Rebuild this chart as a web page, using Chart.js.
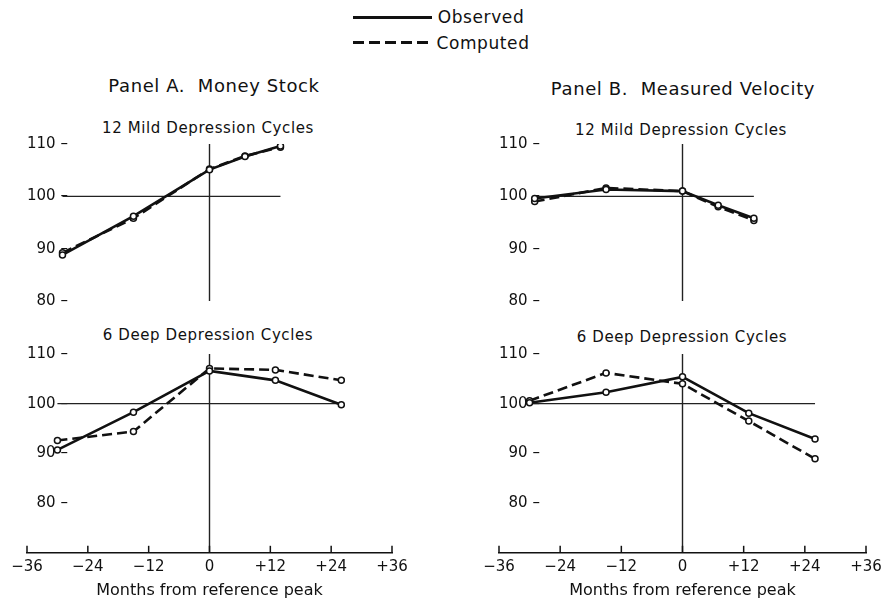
<!DOCTYPE html>
<html lang="en">
<head>
<meta charset="UTF-8">
<title>Money Stock and Measured Velocity</title>
<script src="https://cdn.jsdelivr.net/npm/chart.js"></script>
<style>
  body { margin: 0; background: #fff; font-family: "DejaVu Sans", sans-serif; color: #111; }
  #page { position: relative; width: 888px; height: 600px; overflow: hidden; }
  .box { position: absolute; }
  .txt { position: absolute; white-space: nowrap; transform: translate(-50%, -50%); letter-spacing: 0.6px; }
  .legline { position: absolute; width: 79px; height: 3px; }
  .solid { background: #111; }
  .dashed { background: repeating-linear-gradient(to right, #111 0 11px, transparent 11px 16px); }
</style>
</head>
<body>
<div id="page">
  <div class="legline solid" style="left:353px; top:16px;"></div>
  <div class="legline dashed" style="left:353px; top:41px;"></div>
  <div class="txt" style="left:481px; top:17px; font-size:17px;">Observed</div>
  <div class="txt" style="left:483px; top:43px; font-size:17px;">Computed</div>

  <div class="txt" style="left:214px; top:85px; font-size:18px;">Panel A.&nbsp; Money Stock</div>
  <div class="txt" style="left:683px; top:88px; font-size:18px;">Panel B.&nbsp; Measured Velocity</div>

  <div class="txt" style="left:208px; top:128px; font-size:15px;">12 Mild Depression Cycles</div>
  <div class="txt" style="left:681px; top:130px; font-size:15px;">12 Mild Depression Cycles</div>
  <div class="txt" style="left:208px; top:335px; font-size:15px;">6 Deep Depression Cycles</div>
  <div class="txt" style="left:682px; top:337px; font-size:15px;">6 Deep Depression Cycles</div>

  <div class="box" style="left:0px; top:135px;"><canvas id="moneyMild" width="440" height="175"></canvas></div>
  <div class="box" style="left:440px; top:135px;"><canvas id="velMild" width="448" height="175"></canvas></div>
  <div class="box" style="left:0px; top:345px;"><canvas id="moneyDeep" width="440" height="255"></canvas></div>
  <div class="box" style="left:440px; top:345px;"><canvas id="velDeep" width="448" height="255"></canvas></div>
</div>

<script>
// months from reference peak
const xTicks = [-36, -24, -12, 0, 12, 24, 36];
const mildMonths = [-29, -15, 0, 7, 14];
const deepMonths = [-30, -15, 0, 13, 26];

// Panel A, money stock
const moneyMildObserved = [88.8, 96.2, 105.1, 107.6, 109.6];
const moneyMildComputed = [89.2, 95.8, 105.2, 107.7, 109.4];
const moneyDeepObserved = [90.7, 98.3, 106.6, 104.7, 99.8];
const moneyDeepComputed = [92.6, 94.4, 107.1, 106.8, 104.7];

// Panel B, measured velocity
const velMildObserved = [99.6, 101.3, 101.0, 98.3, 95.8];
const velMildComputed = [99.0, 101.6, 101.0, 98.0, 95.4];
const velDeepObserved = [100.2, 102.3, 105.4, 98.1, 92.9];
const velDeepComputed = [100.6, 106.2, 104.0, 96.5, 88.9];

Chart.defaults.font.family = '"DejaVu Sans", sans-serif';
Chart.defaults.color = '#111';

// short tick marks pointing up from the month axis
const upTicks = {
  id: 'upTicks',
  afterDraw(chart) {
    const xs = chart.scales.x;
    if (!xs.options.display) return;
    const ctx = chart.ctx;
    const y = chart.chartArea.bottom;
    ctx.save();
    ctx.strokeStyle = '#111';
    ctx.lineWidth = 1.5;
    xTicks.forEach(v => {
      const px = xs.getPixelForValue(v);
      ctx.beginPath();
      ctx.moveTo(px, y);
      ctx.lineTo(px, y - 7);
      ctx.stroke();
    });
    ctx.restore();
  }
};

function pairs(months, vals) {
  return months.map((m, i) => ({ x: m, y: vals[i] }));
}

function makePanel(id, months, observed, computed, yMin, showX, pad) {
  const first = months[0], last = months[months.length - 1];
  new Chart(document.getElementById(id), {
    type: 'line',
    data: {
      datasets: [
        {
          label: 'Observed',
          data: pairs(months, observed),
          borderColor: '#111', borderWidth: 2.6,
          pointRadius: 3, pointBackgroundColor: '#fff',
          pointBorderColor: '#111', pointBorderWidth: 1.5
        },
        {
          label: 'Computed',
          data: pairs(months, computed),
          borderColor: '#111', borderWidth: 2.6, borderDash: [10, 5],
          pointRadius: 3, pointBackgroundColor: '#fff',
          pointBorderColor: '#111', pointBorderWidth: 1.5
        },
        {
          label: 'base',
          data: [{ x: first, y: 100 }, { x: last, y: 100 }],
          borderColor: '#222', borderWidth: 1.2, pointRadius: 0
        },
        {
          label: 'peak',
          data: [{ x: 0, y: yMin }, { x: 0, y: 110 }],
          borderColor: '#222', borderWidth: 1.4, pointRadius: 0
        }
      ]
    },
    options: {
      responsive: false,
      animation: false,
      layout: { padding: pad },
      plugins: { legend: { display: false }, tooltip: { enabled: false } },
      scales: {
        x: {
          type: 'linear', min: -36, max: 36,
          display: showX,
          grid: { display: false, drawTicks: false },
          border: { display: true, color: '#111', width: 1.5 },
          ticks: {
            stepSize: 12, padding: 5,
            font: { size: 15 },
            callback: v => v < 0 ? '\u2212' + Math.abs(v) : (v > 0 ? '+' + v : '0')
          },
          title: {
            display: true, text: 'Months from reference peak',
            font: { size: 16 }, padding: { top: 0, bottom: 0 }
          }
        },
        y: {
          min: yMin, max: 110,
          grid: { display: false, drawTicks: false },
          border: { display: false },
          ticks: {
            stepSize: 10, mirror: true, crossAlign: 'far', padding: 0,
            font: { size: 15 },
            callback: v => v >= 80 ? v + ' \u2013' : ''
          }
        }
      }
    },
    plugins: [upTicks]
  });
}

makePanel('moneyMild', mildMonths, moneyMildObserved, moneyMildComputed, 80, false,
  { left: 27, right: 48, top: 8, bottom: 8 });
makePanel('velMild', mildMonths, velMildObserved, velMildComputed, 80, false,
  { left: 59, right: 22, top: 9, bottom: 7 });
makePanel('moneyDeep', deepMonths, moneyDeepObserved, moneyDeepComputed, 70, true,
  { left: 27, right: 48, top: 7, bottom: 0 });
makePanel('velDeep', deepMonths, velDeepObserved, velDeepComputed, 70, true,
  { left: 59, right: 22, top: 8, bottom: 0 });
</script>
</body>
</html>
